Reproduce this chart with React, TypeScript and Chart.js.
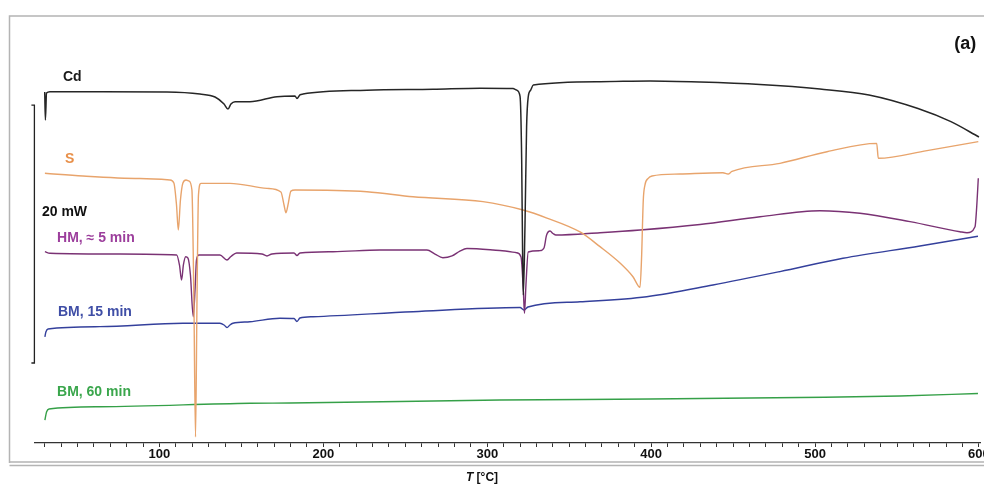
import React, { useEffect, useRef } from "react";
import { Chart, registerables } from "chart.js";

Chart.register(...registerables);

// DSC traces: temperature T [°C] and heat flow [mW, stacked offset]
const cdT = [30.0, 30.4, 31.1, 33.2, 63.7, 104.6, 124.7, 133.9, 139.4, 141.8, 143.6, 146.1, 155.2, 171.7, 182.7, 183.9, 185.7, 187.6, 226.6, 266.9, 295.6, 315.7, 317.9, 320.0, 321.0, 321.6, 322.0, 323.0, 324.0, 325.0, 326.5, 328.1, 368.8, 399.3, 429.8, 466.4, 503.0, 532.9, 562.8, 582.9, 600.0];
const cdHeat = [27.21, 25.04, 27.13, 27.23, 27.23, 27.21, 27.05, 26.82, 26.28, 25.89, 26.28, 26.46, 26.46, 26.85, 26.90, 26.71, 26.98, 27.05, 27.35, 27.42, 27.50, 27.48, 27.36, 26.88, 21.94, 14.19, 11.47, 16.77, 24.52, 26.84, 27.36, 27.75, 28.01, 28.06, 27.98, 27.79, 27.44, 26.98, 25.93, 24.91, 23.72];

const sT = [30.1, 53.3, 88.1, 106.4, 108.8, 110.4, 111.5, 112.8, 114.3, 116.2, 118.0, 119.8, 121.0, 122.0, 122.9, 123.8, 125.3, 143.0, 165.6, 174.1, 176.0, 177.2, 178.4, 180.2, 182.7, 226.6, 254.7, 297.4, 321.8, 336.4, 356.6, 368.8, 381.0, 388.9, 393.2, 394.1, 395.2, 396.2, 398.2, 400.5, 417.6, 443.8, 446.9, 449.3, 478.6, 507.3, 537.6, 538.6, 568.3, 599.6];
const sHeat = [20.91, 20.70, 20.50, 20.39, 20.16, 18.45, 16.51, 18.84, 20.16, 20.39, 20.31, 19.61, 11.09, 0.47, 11.09, 19.22, 20.13, 20.13, 19.74, 19.46, 18.45, 17.85, 18.45, 19.53, 19.61, 19.48, 19.09, 18.71, 18.06, 17.44, 16.36, 15.22, 13.95, 12.89, 12.07, 14.19, 18.84, 20.00, 20.52, 20.70, 20.85, 20.95, 20.85, 21.05, 21.68, 22.58, 23.23, 22.07, 22.67, 23.36];

const hmT = [30.1, 33.2, 75.9, 110.5, 112.2, 113.5, 114.6, 116.0, 117.4, 118.9, 120.6, 121.7, 122.6, 124.1, 136.9, 141.2, 143.6, 147.1, 162.5, 165.6, 168.6, 182.1, 183.9, 185.7, 205.9, 234.5, 263.2, 268.1, 272.9, 278.5, 283.3, 287.6, 307.7, 317.9, 320.6, 322.0, 322.7, 323.6, 325.0, 332.1, 334.6, 336.2, 338.3, 340.1, 341.9, 368.8, 393.2, 429.8, 466.4, 503.0, 527.4, 557.9, 588.4, 592.7, 597.6, 598.5, 599.6];
const hmHeat = [14.83, 14.71, 14.65, 14.57, 13.80, 12.64, 13.80, 14.44, 14.34, 13.02, 9.79, 11.86, 14.19, 14.57, 14.57, 14.19, 14.46, 14.73, 14.65, 14.50, 14.65, 14.73, 14.53, 14.73, 14.83, 14.96, 14.96, 14.65, 14.36, 14.50, 14.88, 15.08, 14.92, 14.75, 14.42, 11.86, 10.05, 12.25, 14.81, 14.91, 15.12, 16.12, 16.43, 16.24, 16.12, 16.30, 16.51, 16.94, 17.54, 18.01, 17.81, 17.16, 16.38, 16.30, 16.77, 18.06, 20.52];

const bm15T = [30.1, 30.7, 32.0, 63.7, 114.3, 136.9, 139.4, 141.2, 143.0, 144.8, 155.2, 173.5, 182.1, 183.9, 185.7, 193.7, 254.7, 320.0, 322.4, 324.8, 356.6, 397.3, 437.7, 478.6, 517.0, 564.0, 599.4];
const bm15Heat = [8.22, 8.60, 8.84, 9.02, 9.28, 9.28, 9.15, 8.95, 9.15, 9.28, 9.40, 9.67, 9.65, 9.42, 9.69, 9.79, 10.18, 10.50, 10.31, 10.54, 10.95, 11.34, 12.25, 13.29, 14.32, 15.27, 16.03];

const bm60T = [30.1, 31.1, 32.6, 63.7, 155.2, 179.6, 246.7, 307.7, 399.3, 490.8, 551.8, 599.4];
const bm60Heat = [1.78, 2.40, 2.64, 2.81, 3.08, 3.10, 3.22, 3.33, 3.41, 3.53, 3.64, 3.84];

const seriesNames = ["Cd", "S", "HM, ≈ 5 min", "BM, 15 min", "BM, 60 min"];
const tickLabels = [100, 200, 300, 400, 500, 600];
const axisTitleVar = "T";
const axisTitleUnit = " [°C]";
const panelLabel = "(a)";
const scaleBarText = "20 mW";
const scaleBarMw = 20;

// presentation
const lineColors = ["#262626", "#e8a46c", "#7a3274", "#34409c", "#35a048"];
const labelColors = ["#1a1a1a", "#e8904a", "#9c3e9c", "#3f4ea6", "#3aa64c"];
// label anchors in data coordinates [T, mW]
const labelAnchors: [number, number][] = [[41.1, 28.37], [42.3, 21.98], [37.5, 15.89], [38.1, 10.16], [37.5, 3.95]];
const scaleBarTopMw = 26.2;
const FONT = '"Liberation Sans", Arial, sans-serif';

const toPts = (t: number[], v: number[]) => t.map((x, i) => ({ x, y: v[i] }));

const decorPlugin = {
  id: "decor",
  afterDraw(chart: any) {
    const { ctx, scales } = chart;
    const x = scales.x;
    const y = scales.y;
    ctx.save();
    // outer frame
    ctx.strokeStyle = "#b4b4b4";
    ctx.lineWidth = 1.5;
    ctx.beginPath();
    ctx.moveTo(9.5, 463);
    ctx.lineTo(9.5, 16);
    ctx.lineTo(984, 16);
    ctx.stroke();
    ctx.beginPath();
    ctx.moveTo(9.5, 462);
    ctx.lineTo(984, 462);
    ctx.moveTo(9.5, 465.5);
    ctx.lineTo(984, 465.5);
    ctx.stroke();

    // tick labels
    ctx.fillStyle = "#111";
    ctx.font = `bold 13px ${FONT}`;
    ctx.textAlign = "center";
    ctx.textBaseline = "middle";
    tickLabels.forEach((t) => {
      ctx.fillText(String(t), x.getPixelForValue(t), 454);
    });

    // axis title
    ctx.textAlign = "left";
    ctx.font = `italic bold 12px ${FONT}`;
    const tx = x.getPixelForValue(287);
    ctx.fillText(axisTitleVar, tx, 478);
    const w = ctx.measureText(axisTitleVar).width;
    ctx.font = `bold 12px ${FONT}`;
    ctx.fillText(axisTitleUnit, tx + w, 478);

    // scale bar
    const bx = x.left - 0.5;
    const yTop = y.getPixelForValue(scaleBarTopMw);
    const yBot = y.getPixelForValue(scaleBarTopMw - scaleBarMw);
    ctx.strokeStyle = "#222";
    ctx.lineWidth = 1.3;
    ctx.beginPath();
    ctx.moveTo(bx - 3, yTop);
    ctx.lineTo(bx, yTop);
    ctx.lineTo(bx, yBot);
    ctx.lineTo(bx - 3, yBot);
    ctx.stroke();
    ctx.fillStyle = "#111";
    ctx.font = `bold 14px ${FONT}`;
    ctx.textAlign = "left";
    ctx.fillText(scaleBarText, x.getPixelForValue(28.3), y.getPixelForValue(17.91));

    // series labels
    seriesNames.forEach((name, i) => {
      ctx.fillStyle = labelColors[i];
      ctx.fillText(name, x.getPixelForValue(labelAnchors[i][0]), y.getPixelForValue(labelAnchors[i][1]));
    });

    // panel label
    ctx.fillStyle = "#111";
    ctx.font = `bold 18px ${FONT}`;
    ctx.textAlign = "right";
    ctx.fillText(panelLabel, x.getPixelForValue(598.3), y.getPixelForValue(30.93));
    ctx.restore();
  },
};

export default function App() {
  const ref = useRef<HTMLCanvasElement | null>(null);
  useEffect(() => {
    if (!ref.current) return;
    const series = [
      toPts(cdT, cdHeat),
      toPts(sT, sHeat),
      toPts(hmT, hmHeat),
      toPts(bm15T, bm15Heat),
      toPts(bm60T, bm60Heat),
    ];
    const chart = new Chart(ref.current, {
      type: "line",
      data: {
        datasets: series.map((d, i) => ({
          label: seriesNames[i],
          data: d,
          borderColor: lineColors[i],
          borderWidth: i === 0 ? 1.5 : 1.4,
          pointRadius: 0,
          cubicInterpolationMode: "monotone",
          fill: false,
        })),
      },
      options: {
        animation: false,
        responsive: false,
        devicePixelRatio: 1,
        layout: { padding: { left: 34.9, right: 3.4, top: 15, bottom: 44 } },
        plugins: { legend: { display: false }, tooltip: { enabled: false }, title: { display: false } },
        scales: {
          x: {
            type: "linear",
            min: 24,
            max: 601,
            ticks: { display: false, stepSize: 10, includeBounds: false },
            grid: { display: true, drawOnChartArea: false, drawTicks: true, tickLength: 4, color: "#333", lineWidth: 1 },
            border: { display: true, color: "#333", width: 1.3 },
          },
          y: {
            display: false,
            min: 0,
            max: 33.18,
          },
        },
      },
      plugins: [decorPlugin],
    });
    return () => chart.destroy();
  }, []);
  return (
    <div style={{ position: "fixed", left: 0, top: 0, width: 984, height: 491, background: "#fff" }}>
      <canvas ref={ref} width={984} height={491} style={{ display: "block" }} />
    </div>
  );
}
